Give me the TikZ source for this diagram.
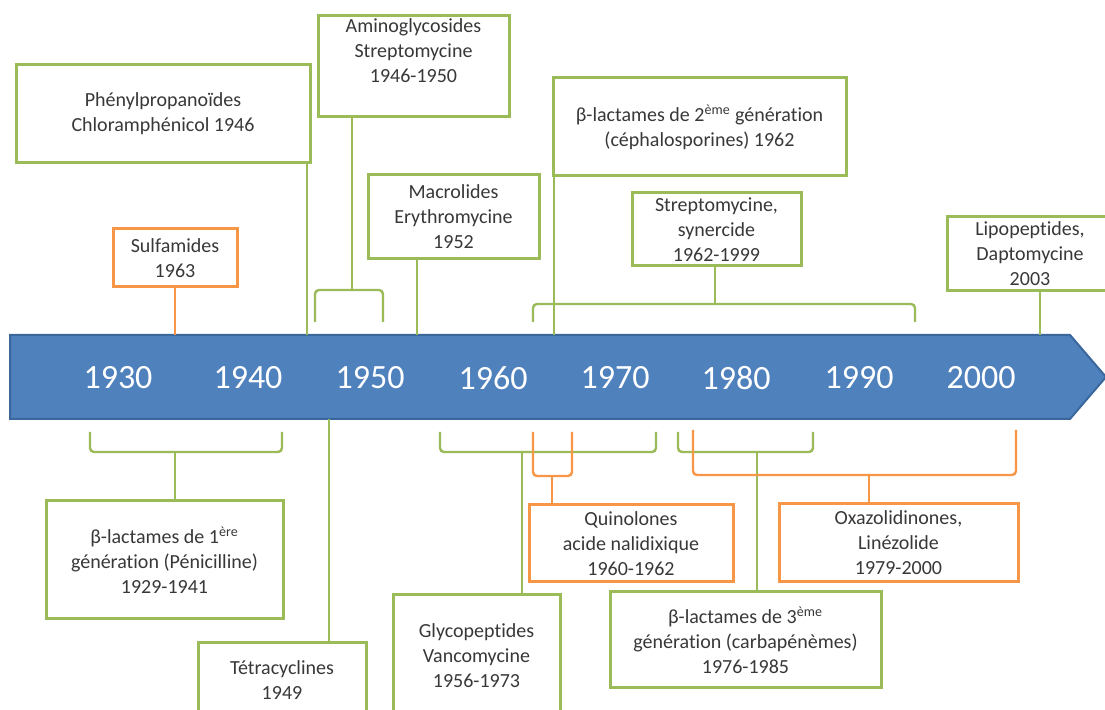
\documentclass[tikz,border=0pt]{standalone}
\usepackage{fontspec}
\setmainfont{Carlito}[Ligatures={NoCommon,NoContextual},Contextuals=NoAlternate]
\usepackage{xcolor}
\definecolor{vert}{HTML}{9BBB59}
\definecolor{orangeb}{HTML}{F79646}
\definecolor{bleu}{HTML}{4F81BD}
\definecolor{bleufonce}{HTML}{3A679C}
\definecolor{texte}{HTML}{383838}

\begin{document}
\begin{tikzpicture}[x=0.5pt,y=-0.5pt,
box/.style={draw=vert,line width=1.5pt,fill=white,align=center,inner sep=0pt,text=texte,font=\fontsize{10}{12.5}\selectfont},
obox/.style={box,draw=orangeb},
gline/.style={draw=vert,line width=1.2pt,rounded corners=2pt},
oline/.style={draw=orangeb,line width=1.2pt,rounded corners=2pt},
year/.style={text=white,font=\fontsize{17}{20}\selectfont}]
\useasboundingbox (0,0) rectangle (1105,710);
\clip (0,0) rectangle (1105,710);
\fill[bleu,draw=bleufonce,line width=1pt] (10,335) -- (1070,335) -- (1106,377) -- (1070,419) -- (10,419) -- cycle;
\coordinate (haut) at (0,335);
\coordinate (bas) at (0,419);
\foreach \an/\x in {1930/118,1940/248,1950/370,1960/493,1970/615,1980/736,1990/859,2000/981}
  \node[year] (y\an) at (\x,378) {\an};
% au-dessus de la frise
\node[box,minimum width=147pt,minimum height=49pt] (phenyl) at (163,114) {Phénylpropanoïdes\\Chloramphénicol 1946};
\node[box,minimum width=95.5pt,minimum height=50.5pt] (amino) at (413.5,66.5) {Aminoglycosides\\Streptomycine\\1946-1950\\\strut};
\node[obox,minimum width=62pt,minimum height=29pt] (sulfa) at (175,258) {Sulfamides\\1963};
\node[box,minimum width=85.5pt,minimum height=42pt] (macro) at (453.5,217) {Macrolides\\Erythromycine\\1952};
\node[box,minimum width=146.5pt,minimum height=49pt] (beta2) at (699.5,127) {β-lactames de 2\textsuperscript{ème} génération\\(céphalosporines) 1962};
\node[box,minimum width=84.5pt,minimum height=36.5pt] (strepto) at (716.5,229.5) {Streptomycine,\\synercide\\1962-1999};
\node[box,minimum width=83pt,minimum height=37pt] (lipo) at (1030,254) {Lipopeptides,\\Daptomycine\\2003};
% au-dessous de la frise
\node[box,minimum width=118.5pt,minimum height=59pt] (beta1) at (164.5,560) {β-lactames de 1\textsuperscript{ère}\\génération (Pénicilline)\\1929-1941};
\node[box,minimum width=84pt,minimum height=37pt] (tetra) at (282,680) {Tétracyclines\\1949};
\node[box,minimum width=83.5pt,minimum height=61pt] (glyco) at (476.5,656) {Glycopeptides\\Vancomycine\\1956-1973};
\node[obox,minimum width=102pt,minimum height=38.5pt] (quino) at (631,543.5) {Quinolones\\acide nalidixique\\1960-1962};
\node[box,minimum width=135.5pt,minimum height=48pt] (beta3) at (745.5,640) {β-lactames de 3\textsuperscript{ème}\\génération (carbapénèmes)\\1976-1985};
\node[obox,minimum width=119.5pt,minimum height=39pt] (oxazo) at (898.5,543) {Oxazolidinones,\\Linézolide\\1979-2000};
% liaisons du haut
\draw[oline] (175,0 |- sulfa.south) -- (175,0 |- haut);
\draw[gline] (307,0 |- phenyl.south) -- (307,0 |- haut);
\draw[gline] (352,0 |- amino.south) -- (352,290);
\draw[gline] (315,322) |- (383,290) -- (383,322);
\draw[gline] (417,0 |- macro.south) -- (417,0 |- haut);
\draw[gline] (554,0 |- beta2.south) -- (554,0 |- haut);
\draw[gline] (715,0 |- strepto.south) -- (715,304);
\draw[gline] (533,322) |- (915,304) -- (915,322);
\draw[gline] (1040,0 |- lipo.south) -- (1040,0 |- haut);
% liaisons du bas
\draw[gline] (90,432) |- (282,452) -- (282,432);
\draw[gline] (175,452) -- (175,0 |- beta1.north);
\draw[gline] (329,0 |- bas) -- (329,0 |- tetra.north);
\draw[gline] (440,432) |- (656,452) -- (656,432);
\draw[gline] (522,452) -- (522,0 |- glyco.north);
\draw[oline] (533,432) |- (572,476) -- (572,432);
\draw[oline] (552,476) -- (552,0 |- quino.north);
\draw[gline] (678,432) |- (813,452) -- (813,432);
\draw[gline] (757,452) -- (757,0 |- beta3.north);
\draw[oline] (693,430) |- (1016,475) -- (1016,430);
\draw[oline] (869,475) -- (869,0 |- oxazo.north);
\end{tikzpicture}
\end{document}
